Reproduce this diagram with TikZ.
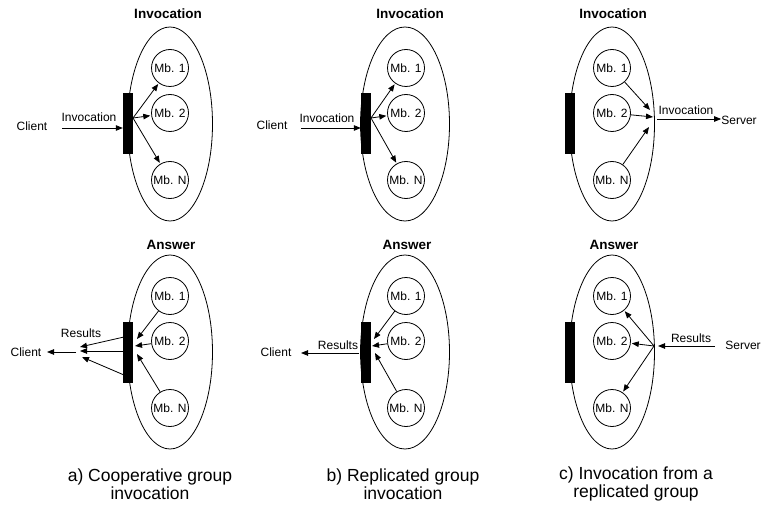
\documentclass[tikz,border=0pt]{standalone}
\usepackage{fontspec}
\setmainfont{Liberation Sans}
\usetikzlibrary{arrows.meta,shapes.geometric}
\tikzset{
  group/.style={draw, ellipse, line width=0.8pt, minimum height=194pt, inner sep=0pt},
  bar/.style={fill=black, minimum width=10pt, minimum height=61pt, inner sep=0pt},
  mb/.style={draw, circle, line width=0.8pt, minimum size=37pt, inner sep=0pt, font=\fontsize{12}{14}\selectfont},
  lbl/.style={inner sep=0pt, font=\fontsize{12}{14}\selectfont},
  ttl/.style={inner sep=0pt, font=\fontsize{13.5}{16}\selectfont\bfseries},
  captext/.style={inner sep=0pt, align=center, font=\fontsize{17.5}{18.5}\selectfont},
  arr/.style={-{Triangle[length=7pt,width=5.5pt]}, line width=0.8pt},
}
\begin{document}
\begin{tikzpicture}[x=1pt,y=-1pt]
\useasboundingbox (0,0) rectangle (762,505);
% ===== Panel a, top =====
\node[ttl] (aTT) at (168,14) {Invocation};
\node[group, minimum width=85pt] (aTE) at (170,124) {};
\node[bar] (aTB) at (128,124) {};
\node[mb] (aT1) at (170,68) {Mb. 1};
\node[mb] (aT2) at (170,113) {Mb. 2};
\node[mb] (aTN) at (170,180) {Mb. N};
\node[lbl] (aTC) at (32,126) {Client};
\node[lbl] (aTI) at (89,117) {Invocation};
\coordinate (aTs) at (62,128);
\draw[arr] (aTs) -- (aTB.west |- aTs);
\coordinate (aTo) at (133,118);
\draw[arr, shorten >=1pt] (aTo) -- (aT1);
\draw[arr, shorten >=1pt] (aTo) -- (aT2);
\draw[arr, shorten >=1pt] (aTo) -- (aTN);
% ===== Panel a, bottom =====
\node[ttl] (aBT) at (171,245) {Answer};
\node[group, minimum width=85pt] (aBE) at (170,352) {};
\node[bar] (aBB) at (128,352) {};
\node[mb] (aB1) at (170,296) {Mb. 1};
\node[mb] (aB2) at (170,341) {Mb. 2};
\node[mb] (aBN) at (170,408) {Mb. N};
\coordinate (aBi1) at (137,339);
\coordinate (aBi2) at (135,346);
\coordinate (aBiN) at (137,354);
\draw[arr] (aB1) -- (aBi1);
\draw[arr] (aB2) -- (aBi2);
\draw[arr] (aBN) -- (aBiN);
\coordinate (aBr1s) at (124,337);
\coordinate (aBr1e) at (80,347);
\coordinate (aBr2s) at (124,351);
\coordinate (aBr2e) at (80,351);
\coordinate (aBr3s) at (124,375);
\coordinate (aBr3e) at (82,357);
\draw[arr] (aBr1s) -- (aBr1e);
\draw[arr] (aBr2s) -- (aBr2e);
\draw[arr] (aBr3s) -- (aBr3e);
\node[lbl] (aBR) at (81,333) {Results};
\node[lbl] (aBC) at (26,352) {Client};
\coordinate (aBcs) at (76,352);
\coordinate (aBce) at (47,352);
\draw[arr] (aBcs) -- (aBce);
% ===== Panel b, top =====
\node[ttl] (bTT) at (410,14) {Invocation};
\node[group, minimum width=89pt] (bTE) at (405,124) {};
\node[bar] (bTB) at (366,124) {};
\node[mb] (bT1) at (406,68) {Mb. 1};
\node[mb] (bT2) at (406,113) {Mb. 2};
\node[mb] (bTN) at (406,180) {Mb. N};
\node[lbl] (bTC) at (272,125) {Client};
\node[lbl] (bTI) at (327,118) {Invocation};
\coordinate (bTs) at (301,128);
\draw[arr] (bTs) -- (bTB.west |- bTs);
\coordinate (bTo) at (371,118);
\draw[arr, shorten >=1pt] (bTo) -- (bT1);
\draw[arr, shorten >=1pt] (bTo) -- (bT2);
\draw[arr, shorten >=1pt] (bTo) -- (bTN);
% ===== Panel b, bottom =====
\node[ttl] (bBT) at (407,245) {Answer};
\node[group, minimum width=89pt] (bBE) at (405,352) {};
\node[bar] (bBB) at (366,352) {};
\node[mb] (bB1) at (406,296) {Mb. 1};
\node[mb] (bB2) at (406,341) {Mb. 2};
\node[mb] (bBN) at (406,408) {Mb. N};
\coordinate (bBi1) at (374,339);
\coordinate (bBi2) at (372,346);
\coordinate (bBiN) at (375,353);
\draw[arr] (bB1) -- (bBi1);
\draw[arr] (bB2) -- (bBi2);
\draw[arr] (bBN) -- (bBiN);
\node[lbl] (bBR) at (338,345) {Results};
\node[lbl] (bBC) at (276,352) {Client};
\coordinate (bBrs) at (359,353);
\coordinate (bBre) at (301,353);
\draw[arr] (bBrs) -- (bBre);
% ===== Panel c, top =====
\node[ttl] (cTT) at (613,14) {Invocation};
\node[group, minimum width=85pt] (cTE) at (612,124) {};
\node[bar] (cTB) at (570,124) {};
\node[mb] (cT1) at (612,68) {Mb. 1};
\node[mb] (cT2) at (612,113) {Mb. 2};
\node[mb] (cTN) at (612,180) {Mb. N};
\coordinate (cTi1) at (650,110);
\coordinate (cTi2) at (653,117);
\coordinate (cTiN) at (649,127);
\draw[arr] (cT1) -- (cTi1);
\draw[arr] (cT2) -- (cTi2);
\draw[arr] (cTN) -- (cTiN);
\node[lbl] (cTI) at (686,110) {Invocation};
\node[lbl] (cTS) at (739,120) {Server};
\coordinate (cTs) at (657,119);
\draw[arr] (cTs) -- (cTS.west |- cTs);
% ===== Panel c, bottom =====
\node[ttl] (cBT) at (614,245) {Answer};
\node[group, minimum width=85pt] (cBE) at (612,352) {};
\node[bar] (cBB) at (570,352) {};
\node[mb] (cB1) at (612,296) {Mb. 1};
\node[mb] (cB2) at (612,341) {Mb. 2};
\node[mb] (cBN) at (612,408) {Mb. N};
\coordinate (cBp) at (654,346);
\draw[arr, shorten >=1pt] (cBp) -- (cB1);
\draw[arr, shorten >=1pt] (cBp) -- (cB2);
\draw[arr, shorten >=1pt] (cBp) -- (cBN);
\node[lbl] (cBR) at (691,338) {Results};
\node[lbl] (cBS) at (743,345) {Server};
\coordinate (cBs) at (715,346);
\coordinate (cBe) at (658,346);
\draw[arr] (cBs) -- (cBe);
% ===== Captions =====
\node[captext] (capA) at (150,484) {a) Cooperative group\\invocation};
\node[captext] (capB) at (403,484) {b) Replicated group\\invocation};
\node[captext] (capC) at (636,484) {c) Invocation from a\\replicated group};
\end{tikzpicture}
\end{document}
